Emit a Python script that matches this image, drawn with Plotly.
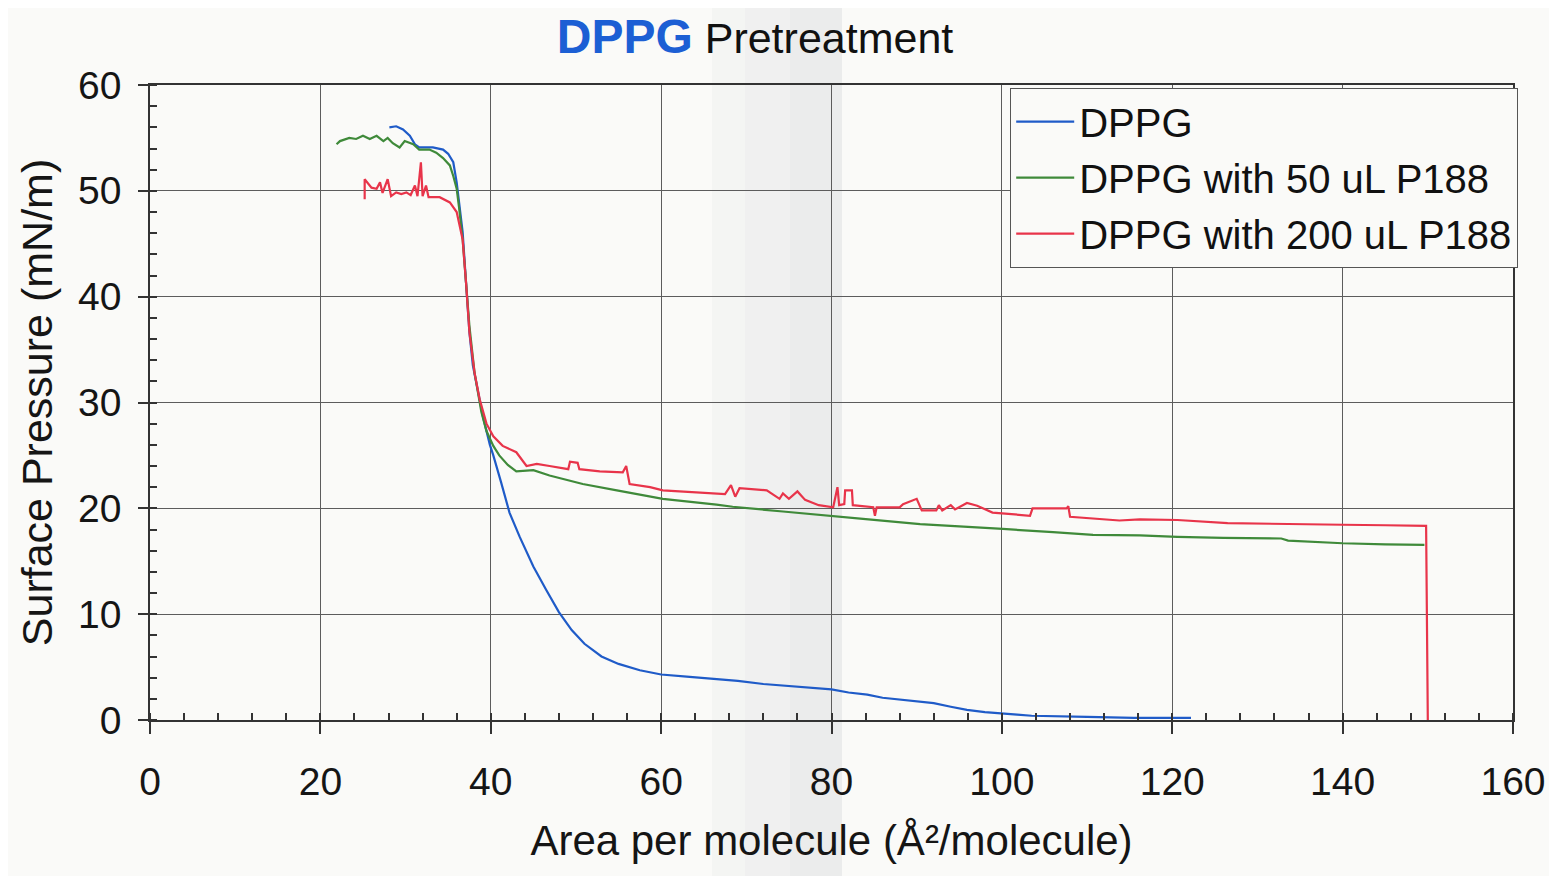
import plotly.graph_objects as go

# ---------------- data ----------------
dppg_x = [28.1, 28.9, 29.7, 30.5, 31.1, 31.6, 33.2, 34.4, 35.0, 35.6, 36.0, 36.3, 36.7,
          37.1, 37.5, 37.9, 38.5, 39.1, 39.9, 40.3, 41.2, 42.2, 43.4, 45.0, 46.5, 48.0,
          49.5, 51.0, 53.0, 55.0, 57.5, 60.0, 63.0, 66.0, 69.0, 72.0, 75.0, 78.0, 80.0,
          82.0, 84.2, 86.0, 88.1, 90.0, 92.0, 94.0, 95.9, 98.0, 99.8, 101.8, 103.5,
          105.7, 110.0, 115.5, 120.0, 122.2]
dppg_y = [56.0, 56.1, 55.8, 55.2, 54.4, 54.1, 54.1, 53.9, 53.5, 52.7, 50.8, 48.6, 46.1,
          41.3, 36.6, 33.5, 31.0, 28.6, 26.0, 25.0, 22.5, 19.6, 17.3, 14.5, 12.3, 10.2,
          8.5, 7.2, 6.0, 5.3, 4.7, 4.3, 4.1, 3.9, 3.7, 3.4, 3.2, 3.0, 2.9,
          2.6, 2.4, 2.1, 1.9, 1.75, 1.6, 1.25, 0.95, 0.75, 0.6, 0.5, 0.4,
          0.35, 0.3, 0.2, 0.2, 0.2]

p50_x = [21.9, 22.3, 23.4, 24.2, 25.0, 25.8, 26.6, 27.4, 27.9, 28.5, 29.3, 29.9, 30.9,
         31.6, 32.8, 33.6, 34.4, 35.2, 35.6, 36.0, 36.3, 36.7, 37.1, 37.5, 38.1, 38.9,
         39.5, 40.3, 41.0, 42.0, 43.0, 45.0, 46.9, 50.8, 54.8, 60.2, 66.5, 68.4, 74.3,
         80.2, 83.7, 90.4, 95.1, 100.1, 106.0, 110.7, 116.2, 120.6, 126.0, 132.8,
         133.6, 140.0, 145.0, 149.6]
p50_y = [54.4, 54.7, 55.0, 54.9, 55.2, 54.9, 55.2, 54.7, 55.0, 54.5, 54.1, 54.7, 54.4,
         53.9, 53.9, 53.6, 53.1, 52.4, 51.4, 50.2, 48.3, 45.4, 41.3, 37.2, 32.8, 29.1,
         27.3, 25.9, 25.0, 24.1, 23.5, 23.6, 23.1, 22.3, 21.7, 20.9, 20.35, 20.15, 19.7,
         19.3, 19.0, 18.5, 18.3, 18.05, 17.75, 17.5, 17.45, 17.3, 17.2, 17.15,
         16.95, 16.7, 16.6, 16.55]

p200_x = [25.2, 25.2, 26.0, 26.6, 27.0, 27.3, 27.9, 28.3, 28.9, 29.5, 30.1, 30.6, 31.1,
          31.4, 31.8, 32.0, 32.4, 32.7, 34.0, 35.2, 36.0, 36.3, 36.7, 37.1, 37.5, 38.1,
          38.7, 39.5, 40.3, 41.4, 43.0, 44.2, 45.4, 46.9, 49.1, 49.3, 50.2, 50.4, 52.8,
          55.5, 55.9, 56.3, 58.7, 60.2, 62.6, 65.0, 67.5, 68.2, 68.7, 69.2, 72.4, 73.9,
          74.3, 75.0, 76.0, 76.9, 78.5, 80.2, 80.7, 80.9, 81.5, 81.6, 82.4, 82.5, 84.9,
          85.1, 85.3, 88.0, 88.4, 90.0, 90.6, 92.3, 92.6, 93.0, 94.0, 94.5, 95.9, 97.1,
          98.9, 103.3, 103.6, 107.6, 107.8, 108.0, 113.8, 116.2, 120.6, 126.5, 133.0,
          140.0, 145.0, 149.8, 150.0]
p200_y = [49.2, 51.1, 50.3, 50.2, 50.8, 49.8, 51.1, 49.5, 49.85, 49.7, 49.85, 49.6, 50.5,
          49.5, 52.7, 49.5, 50.5, 49.4, 49.4, 48.9, 48.0, 47.0, 45.4, 41.3, 36.6, 32.8,
          30.3, 28.0, 26.8, 25.9, 25.3, 24.0, 24.2, 24.0, 23.7, 24.4, 24.3, 23.7, 23.5,
          23.4, 24.0, 22.3, 22.0, 21.7, 21.6, 21.5, 21.35, 22.2, 21.1, 21.9, 21.7, 20.9,
          21.4, 20.9, 21.6, 20.8, 20.3, 20.1, 22.0, 20.3, 20.4, 21.7, 21.7, 20.3, 20.1,
          19.3, 20.1, 20.1, 20.4, 20.9, 19.8, 19.8, 20.3, 19.8, 20.3, 19.9, 20.5, 20.25,
          19.6, 19.3, 20.0, 20.0, 20.2, 19.2, 18.85, 18.95, 18.9, 18.6, 18.5,
          18.45, 18.4, 18.35, 0.0]

series_names = ["DPPG", "DPPG with 50 uL P188", "DPPG with 200 uL P188"]
series_colors = ["#1f5bc8", "#3f8a3a", "#e8344a"]

x_ticks = [0, 20, 40, 60, 80, 100, 120, 140, 160]
y_ticks = [0, 10, 20, 30, 40, 50, 60]

# ---------------- figure ----------------
# the page body adds an 8px offset, so margins are shifted to compensate
OFF = 8
W, H = 1557, 876
ML, MR, MT, MB = 150 - OFF, 44 + OFF, 85 - OFF, 156 + OFF
PW, PH = W - ML - MR, H - MT - MB

FONT = "Liberation Sans, Arial, sans-serif"

fig = go.Figure()
for xs, ys, name, col in zip([dppg_x, p50_x, p200_x], [dppg_y, p50_y, p200_y],
                             series_names, series_colors):
    fig.add_trace(go.Scatter(x=xs, y=ys, mode="lines", name=name, legendgroup=name,
                             line=dict(color=col, width=2.2)))


def px_to_paper_x(px):
    return (px - OFF - ML) / PW


# faint grey scanner band (background decoration)
band = [(712, 745, "rgba(110,120,140,0.04)"), (745, 790, "rgba(110,120,140,0.07)"),
        (790, 842, "rgba(110,120,140,0.10)")]
shapes = []
for a, b, c in band:
    shapes.append(dict(type="rect", xref="paper", yref="paper",
                       x0=px_to_paper_x(a), x1=px_to_paper_x(b),
                       y0=-MB / PH, y1=1 + MT / PH, fillcolor=c, line=dict(width=0),
                       layer="below"))

axis_common = dict(showline=True, linecolor="#333333", linewidth=1.5, mirror=True,
                   showgrid=True, gridcolor="#5c5c5c", gridwidth=1.2, zeroline=False,
                   ticks="outside", tickcolor="#333333", tickwidth=1.5,
                   tickfont=dict(family=FONT, size=39, color="#151515"))

fig.update_layout(
    width=W, height=H,
    margin=dict(l=ML, r=MR, t=MT, b=MB, autoexpand=False),
    paper_bgcolor="#fafaf8", plot_bgcolor="rgba(0,0,0,0)",
    font=dict(family=FONT, color="#151515"),
    shapes=shapes,
    title=dict(
        text='<span style="color:#1c5fd4;font-size:48px"><b>DPPG</b></span>'
             ' <span style="font-size:43px">Pretreatment</span>',
        x=(755 - OFF) / W, xref="container", xanchor="center",
        y=1 - (38 - OFF) / H, yref="container", yanchor="middle",
        font=dict(family=FONT, size=43, color="#111111")),
    xaxis=dict(range=[0, 160], tickvals=x_ticks, ticklen=12,
               ticklabelstandoff=14,
               minor=dict(dtick=4, ticks="inside", ticklen=7, tickcolor="#333333",
                          showgrid=False),
               title=dict(text="Area per molecule (Å²/molecule)", standoff=24,
                          font=dict(family=FONT, size=42, color="#151515")),
               **axis_common),
    yaxis=dict(range=[0, 60], tickvals=y_ticks, ticklen=10,
               ticklabelstandoff=9,
               minor=dict(dtick=2, ticks="inside", ticklen=7, tickcolor="#333333",
                          showgrid=False),
               title=dict(text="Surface Pressure (mN/m)", standoff=12,
                          font=dict(family=FONT, size=43, color="#151515")),
               **axis_common),
    legend=dict(x=px_to_paper_x(1010), y=1 - 3 / PH, xanchor="left", yanchor="top",
                bgcolor="#fafaf8", bordercolor="#555555", borderwidth=1.2,
                font=dict(family=FONT, size=40, color="#111111"),
                tracegroupgap=1, itemwidth=58),
    showlegend=True,
)

fig.write_html("out.html")
